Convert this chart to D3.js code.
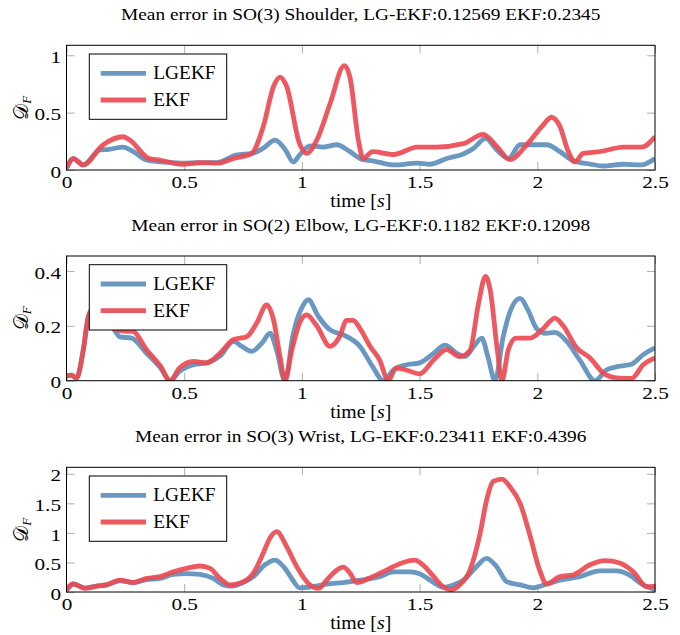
<!DOCTYPE html>
<html>
<head>
<meta charset="utf-8">
<script src="https://cdn.jsdelivr.net/npm/d3@7"></script>
<style>
  body { margin: 0; background: #fff; }
  svg text { font-family: "Liberation Serif", "Times New Roman", serif; fill: #000; }
</style>
</head>
<body>
<div id="chart"></div>
<script>
// Data: [time (s), D_F]
const shoulderLG = [[0,0.015],[0.03,0.1],[0.07,0.044],[0.142,0.175],[0.18,0.18],[0.24,0.2],[0.284,0.16],[0.34,0.087],[0.4,0.07],[0.49,0.06],[0.567,0.065],[0.64,0.065],[0.72,0.13],[0.79,0.145],[0.836,0.19],[0.886,0.26],[0.93,0.175],[0.963,0.07],[0.99,0.13],[1.034,0.21],[1.09,0.2],[1.148,0.22],[1.204,0.16],[1.255,0.093],[1.3,0.08],[1.39,0.044],[1.49,0.06],[1.544,0.05],[1.615,0.1],[1.686,0.14],[1.73,0.19],[1.78,0.276],[1.83,0.17],[1.877,0.1],[1.927,0.22],[1.97,0.22],[2.04,0.22],[2.096,0.16],[2.153,0.08],[2.224,0.052],[2.28,0.035],[2.366,0.05],[2.44,0.044],[2.5,0.1]];
const shoulderEKF = [[0,0.015],[0.029,0.1],[0.071,0.044],[0.156,0.22],[0.241,0.29],[0.27,0.26],[0.35,0.1],[0.4,0.085],[0.49,0.05],[0.567,0.063],[0.64,0.06],[0.71,0.1],[0.787,0.145],[0.836,0.38],[0.88,0.73],[0.907,0.81],[0.935,0.73],[0.99,0.23],[1.02,0.145],[1.063,0.26],[1.12,0.58],[1.18,0.91],[1.204,0.81],[1.24,0.26],[1.26,0.1],[1.3,0.16],[1.39,0.135],[1.49,0.2],[1.57,0.2],[1.686,0.23],[1.77,0.31],[1.83,0.2],[1.884,0.09],[1.955,0.22],[2.02,0.38],[2.06,0.46],[2.096,0.38],[2.13,0.17],[2.16,0.07],[2.195,0.145],[2.266,0.16],[2.366,0.2],[2.443,0.2],[2.5,0.29]];

const elbowLG = [[0,0.016],[0.02,0.02],[0.043,0.01],[0.071,0.11],[0.093,0.234],[0.12,0.27],[0.2,0.19],[0.227,0.16],[0.277,0.155],[0.34,0.1],[0.4,0.046],[0.44,0],[0.48,0.034],[0.54,0.058],[0.596,0.065],[0.652,0.09],[0.71,0.143],[0.745,0.125],[0.787,0.107],[0.83,0.137],[0.865,0.173],[0.893,0.11],[0.928,0],[0.963,0.17],[1.006,0.276],[1.027,0.295],[1.07,0.234],[1.12,0.185],[1.176,0.167],[1.247,0.125],[1.3,0.052],[1.346,0],[1.39,0.04],[1.445,0.058],[1.5,0.065],[1.56,0.1],[1.608,0.13],[1.658,0.1],[1.693,0.088],[1.73,0.125],[1.764,0.155],[1.79,0.088],[1.82,0],[1.855,0.16],[1.89,0.264],[1.927,0.3],[1.96,0.258],[1.997,0.19],[2.033,0.173],[2.075,0.176],[2.125,0.143],[2.18,0.076],[2.245,0],[2.295,0.04],[2.344,0.052],[2.4,0.06],[2.45,0.095],[2.5,0.12]];
const elbowEKF = [[0,0.016],[0.02,0.02],[0.043,0.01],[0.071,0.11],[0.093,0.234],[0.12,0.27],[0.2,0.19],[0.256,0.18],[0.28,0.18],[0.34,0.113],[0.4,0.052],[0.44,0],[0.48,0.046],[0.54,0.07],[0.596,0.065],[0.652,0.1],[0.71,0.15],[0.765,0.16],[0.808,0.21],[0.85,0.276],[0.88,0.22],[0.907,0.088],[0.928,0],[0.957,0.11],[0.99,0.21],[1.02,0.24],[1.063,0.2],[1.12,0.125],[1.16,0.16],[1.19,0.22],[1.218,0.22],[1.247,0.19],[1.29,0.125],[1.33,0.076],[1.367,0],[1.4,0.046],[1.44,0.04],[1.5,0.025],[1.56,0.076],[1.615,0.113],[1.67,0.088],[1.714,0.11],[1.75,0.28],[1.78,0.38],[1.8,0.33],[1.83,0.113],[1.85,0],[1.877,0.113],[1.91,0.155],[1.97,0.155],[2.02,0.185],[2.075,0.228],[2.11,0.2],[2.167,0.12],[2.224,0.083],[2.28,0.028],[2.337,0.01],[2.4,0.008],[2.45,0.058],[2.5,0.083]];

const wristLG = [[0,0.04],[0.029,0.135],[0.079,0.07],[0.128,0.1],[0.17,0.12],[0.227,0.19],[0.284,0.16],[0.34,0.21],[0.397,0.23],[0.454,0.3],[0.51,0.31],[0.567,0.3],[0.624,0.23],[0.666,0.12],[0.7,0.1],[0.75,0.16],[0.794,0.26],[0.843,0.46],[0.886,0.54],[0.928,0.4],[0.963,0.19],[0.99,0.07],[1.048,0.09],[1.105,0.135],[1.176,0.16],[1.247,0.2],[1.33,0.26],[1.39,0.34],[1.46,0.34],[1.5,0.31],[1.56,0.16],[1.6,0.08],[1.643,0.12],[1.686,0.2],[1.735,0.4],[1.785,0.57],[1.827,0.43],[1.87,0.175],[1.927,0.12],[1.983,0.07],[2.04,0.135],[2.096,0.2],[2.18,0.26],[2.266,0.356],[2.337,0.356],[2.39,0.29],[2.45,0.12],[2.5,0.04]];
const wristEKF = [[0,0.03],[0.029,0.135],[0.079,0.06],[0.128,0.1],[0.17,0.12],[0.227,0.2],[0.284,0.16],[0.34,0.23],[0.397,0.26],[0.454,0.34],[0.51,0.4],[0.567,0.44],[0.61,0.4],[0.652,0.23],[0.695,0.12],[0.744,0.16],[0.794,0.32],[0.836,0.66],[0.864,0.91],[0.893,1.02],[0.935,0.77],[0.978,0.43],[1.034,0.12],[1.07,0.06],[1.105,0.2],[1.148,0.37],[1.176,0.42],[1.204,0.32],[1.233,0.16],[1.3,0.26],[1.374,0.4],[1.43,0.5],[1.48,0.54],[1.516,0.45],[1.56,0.26],[1.6,0.09],[1.634,0.04],[1.67,0.12],[1.714,0.37],[1.757,0.99],[1.785,1.56],[1.813,1.87],[1.85,1.91],[1.884,1.78],[1.927,1.5],[1.97,0.94],[2.01,0.37],[2.04,0.135],[2.096,0.26],[2.153,0.29],[2.224,0.46],[2.288,0.53],[2.35,0.49],[2.408,0.34],[2.465,0.09],[2.5,0.1]];

const panelTitles = [
  "Mean error in SO(3) Shoulder, LG-EKF:0.12569 EKF:0.2345",
  "Mean error in SO(2) Elbow, LG-EKF:0.1182 EKF:0.12098",
  "Mean error in SO(3) Wrist, LG-EKF:0.23411 EKF:0.4396"
];
const yMaxes = [1.087, 0.4545, 2.11];
const yTickValues = [[0, 0.5, 1], [0, 0.2, 0.4], [0, 0.5, 1, 1.5, 2]];
const xTickValues = [0, 0.5, 1, 1.5, 2, 2.5];
const seriesNames = ["LGEKF", "EKF"];
const panelData = [[shoulderLG, shoulderEKF], [elbowLG, elbowEKF], [wristLG, wristEKF]];

const colors = ["#5e8fbb", "#ec4b52"];
const W = 680, H = 635;
const plotLeft = 66.5, plotRight = 655;
const plotTops = [45.3, 256, 467.3];
const plotH = 124.7;
const tickLen = 8;
const tickStretch = 1.25;   // the reference text is a bit wide

const svg = d3.select("#chart").append("svg")
  .attr("width", W).attr("height", H);

const x = d3.scaleLinear().domain([0, 2.5]).range([plotLeft, plotRight]);

// centred text, stretched horizontally around its anchor
function wideText(parent, cx, cy, size, sx) {
  return parent.append("text")
    .attr("transform", `translate(${cx},${cy}) scale(${sx},1)`)
    .attr("text-anchor", "middle")
    .style("font-size", size + "px");
}

panelData.forEach((series, p) => {
  const top = plotTops[p];
  const bottom = top + plotH;
  const y = d3.scaleLinear().domain([0, yMaxes[p]]).range([bottom, top]);

  const g = svg.append("g");

  // title
  wideText(g, (plotLeft + plotRight) / 2, top - 25.3, 17.6, 1.1).text(panelTitles[p]);

  // inward ticks on all four sides
  const fmt = d3.format("");
  const xb = g.append("g").attr("transform", `translate(0,${bottom})`)
    .call(d3.axisBottom(x).tickValues(xTickValues).tickSizeInner(-tickLen).tickSizeOuter(0).tickPadding(6).tickFormat(fmt));
  g.append("g").attr("transform", `translate(0,${top})`)
    .call(d3.axisTop(x).tickValues(xTickValues).tickSizeInner(-tickLen).tickSizeOuter(0).tickFormat(""));
  const yl = g.append("g").attr("transform", `translate(${plotLeft},0)`)
    .call(d3.axisLeft(y).tickValues(yTickValues[p]).tickSizeInner(-tickLen).tickSizeOuter(0).tickPadding(5.5).tickFormat(fmt));
  g.append("g").attr("transform", `translate(${plotRight},0)`)
    .call(d3.axisRight(y).tickValues(yTickValues[p]).tickSizeInner(-tickLen).tickSizeOuter(0).tickFormat(""));

  g.selectAll(".domain").remove();
  g.selectAll(".tick line").attr("stroke", "#999").attr("stroke-width", 0.8);
  g.selectAll(".tick text")
    .style("font-family", "'Liberation Serif', serif")
    .style("font-size", "17px")
    .attr("fill", "#000");
  xb.selectAll(".tick text").attr("transform", `scale(${tickStretch},1)`);
  yl.selectAll(".tick text")
    .attr("x", -5.5 / tickStretch)
    .attr("dy", "0.42em")
    .attr("transform", `scale(${tickStretch},1)`);

  // clip and lines
  const clipId = "clip" + p;
  svg.append("clipPath").attr("id", clipId)
    .append("rect").attr("x", plotLeft).attr("y", top)
    .attr("width", plotRight - plotLeft).attr("height", plotH);

  const line = d3.line()
    .x(d => x(d[0]))
    .y(d => y(d[1]))
    .curve(d3.curveMonotoneX);

  series.forEach((data, i) => {
    g.append("path")
      .datum(data)
      .attr("clip-path", `url(#${clipId})`)
      .attr("fill", "none")
      .attr("stroke", colors[i])
      .attr("stroke-opacity", 0.92)
      .attr("stroke-width", 4.8)
      .attr("stroke-linejoin", "round")
      .attr("d", line);
  });

  // frame
  g.append("rect")
    .attr("x", plotLeft).attr("y", top)
    .attr("width", plotRight - plotLeft).attr("height", plotH)
    .attr("fill", "none").attr("stroke", "#000").attr("stroke-width", 1);

  // axis labels
  wideText(g, (plotLeft + plotRight) / 2, bottom + 37, 18, 1.1)
    .html('time <tspan>[</tspan><tspan font-style="italic">s</tspan><tspan>]</tspan>');

  const ylab = g.append("text")
    .attr("transform", `translate(28,${top + plotH / 2}) rotate(-90)`)
    .attr("text-anchor", "middle")
    .style("font-size", "20px");
  ylab.append("tspan").text("\u{1D49F}");
  ylab.append("tspan").attr("font-style", "italic").attr("font-size", "13px").attr("dy", 3).text("F");

  // legend
  const lx = 89.3, ly = top + 8.7;
  const leg = g.append("g");
  leg.append("rect")
    .attr("x", lx).attr("y", ly).attr("width", 137.4).attr("height", 65.3)
    .attr("fill", "#fff").attr("stroke", "#000").attr("stroke-width", 1);
  seriesNames.forEach((name, i) => {
    const yy = ly + 19.3 + i * 26.7;
    leg.append("line")
      .attr("x1", lx + 11.4).attr("x2", lx + 56.7)
      .attr("y1", yy).attr("y2", yy)
      .attr("stroke", colors[i]).attr("stroke-opacity", 0.92).attr("stroke-width", 4.8);
    leg.append("text")
      .attr("transform", `translate(${lx + 64},${yy + 6}) scale(1.04,1)`)
      .style("font-size", "18.6px")
      .text(name);
  });
});
</script>
</body>
</html>
